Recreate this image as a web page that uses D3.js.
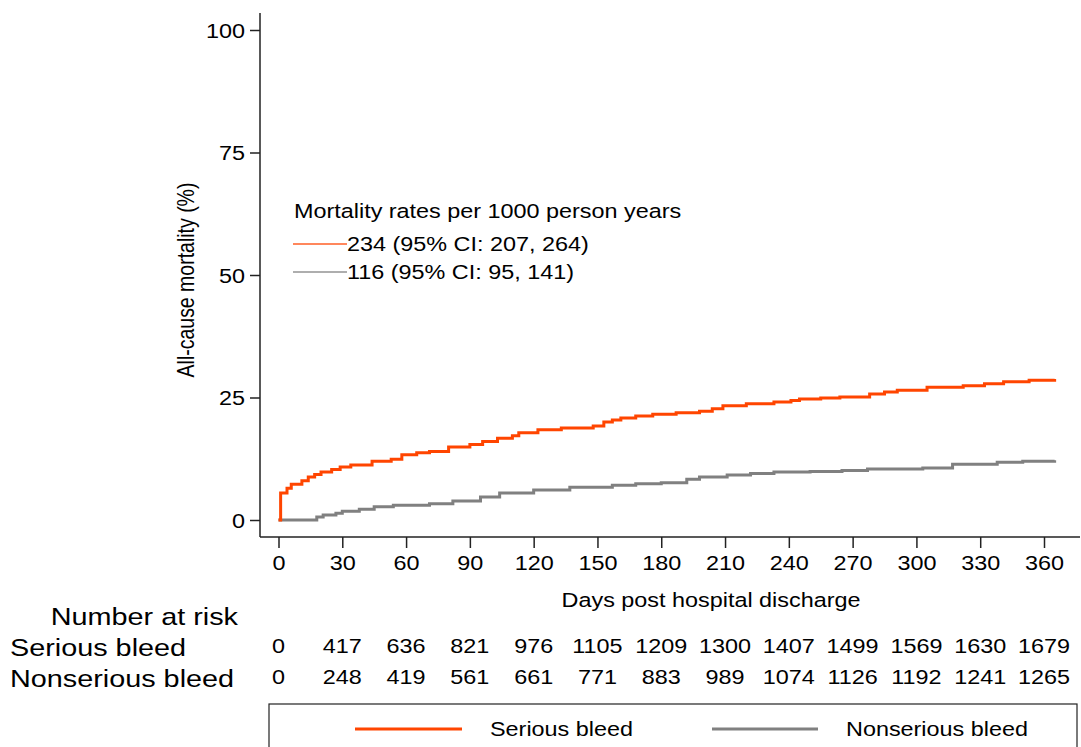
<html>
<head>
<meta charset="utf-8">
<title>All-cause mortality</title>
<style>
    body { margin: 0; padding: 0; background: white; }
    text { font-family: "Liberation Sans", Arial, sans-serif; fill: black; }
</style>
</head>
<body>
<div id="chart"></div>
<script src="https://d3js.org/d3.v7.min.js"></script>
<script>
// Kaplan-Meier style step curves (day, cumulative mortality %)
var seriousDays = [0, 1, 4, 6, 11, 14, 17, 20, 25, 29, 34, 44, 53, 58, 65, 71, 80, 90, 96, 103, 110, 113, 122, 133, 148, 153, 157, 161, 168, 176, 187, 198, 204, 209, 220, 233, 241, 245, 255, 264, 278, 285, 291, 305, 322, 332, 341, 353, 365];
var seriousPct  = [0, 5.5, 6.5, 7.3, 8.0, 8.8, 9.3, 9.8, 10.3, 10.8, 11.2, 12.0, 12.4, 13.3, 13.7, 14.0, 14.9, 15.4, 16.0, 16.7, 17.2, 17.8, 18.4, 18.8, 19.2, 20.0, 20.4, 20.8, 21.2, 21.6, 21.9, 22.2, 22.7, 23.3, 23.7, 24.1, 24.4, 24.7, 24.9, 25.1, 25.7, 26.1, 26.5, 27.1, 27.4, 27.8, 28.2, 28.5, 28.8];

var nonseriousDays = [0, 18, 21, 27, 30, 38, 45, 54, 71, 82, 95, 104, 120, 137, 157, 168, 180, 192, 198, 211, 222, 233, 250, 265, 277, 303, 317, 338, 350, 365];
var nonseriousPct  = [0, 0.6, 1.0, 1.4, 1.8, 2.2, 2.7, 3.0, 3.3, 3.9, 4.7, 5.5, 6.1, 6.7, 7.1, 7.4, 7.6, 8.3, 8.8, 9.2, 9.5, 9.8, 9.9, 10.1, 10.4, 10.6, 11.4, 11.8, 12.0, 12.2];

var xTicks = [0, 30, 60, 90, 120, 150, 180, 210, 240, 270, 300, 330, 360];
var yTicks = [0, 25, 50, 75, 100];

var riskSerious    = [0, 417, 636, 821, 976, 1105, 1209, 1300, 1407, 1499, 1569, 1630, 1679];
var riskNonserious = [0, 248, 419, 561, 661, 771, 883, 989, 1074, 1126, 1192, 1241, 1265];

var rateLabels = ["234 (95% CI: 207, 264)", "116 (95% CI: 95, 141)"];
var groupNames = ["Serious bleed", "Nonserious bleed"];
var colors = ["#ff4500", "#808080"];

var width = 1081, height = 747;
var stretch = 1.2; // the original graph is stretched horizontally

var svg = d3.select("#chart").append("svg")
    .attr("width", width)
    .attr("height", height);

var x = d3.scaleLinear().domain([0, 360]).range([278.5, 1044]);
var y = d3.scaleLinear().domain([0, 100]).range([520, 30]);

var axisX = 260, axisY = 537;

function addText(g, tx, ty, str, size, anchor, rotate) {
    return g.append("text")
        .attr("transform", "translate(" + tx + "," + ty + ") scale(" + stretch + ",1)" + (rotate ? " rotate(-90)" : ""))
        .attr("text-anchor", anchor || "start")
        .style("font-size", size + "px")
        .text(str);
}

// axes
var gx = svg.append("g")
    .attr("transform", "translate(0," + axisY + ")")
    .call(d3.axisBottom(x).tickValues(xTicks).tickSize(11).tickSizeOuter(0));
gx.select(".domain").remove();
gx.selectAll("line").attr("stroke", "#222").attr("stroke-width", 1.5);
gx.selectAll("text")
    .attr("y", 0).attr("dy", null)
    .attr("transform", "translate(0,33) scale(" + stretch + ",1)")
    .style("font-size", "19.5px").style("font-family", "Liberation Sans, Arial, sans-serif");

var gy = svg.append("g")
    .attr("transform", "translate(" + axisX + ",0)")
    .call(d3.axisLeft(y).tickValues(yTicks).tickSize(10).tickSizeOuter(0));
gy.select(".domain").remove();
gy.selectAll("line").attr("stroke", "#222").attr("stroke-width", 1.5);
gy.selectAll("text")
    .attr("x", 0).attr("dy", null)
    .attr("transform", "translate(-15,7) scale(" + stretch + ",1)")
    .style("font-size", "19.5px").style("font-family", "Liberation Sans, Arial, sans-serif");

svg.append("line").attr("x1", axisX).attr("x2", axisX).attr("y1", 13).attr("y2", axisY)
    .attr("stroke", "#222").attr("stroke-width", 1.5);
svg.append("line").attr("x1", axisX).attr("x2", 1080).attr("y1", axisY).attr("y2", axisY)
    .attr("stroke", "#222").attr("stroke-width", 1.5);

addText(svg, 194, 280, "All-cause mortality (%)", 19.5, "middle", true);
addText(svg, 711, 607, "Days post hospital discharge", 19.5, "middle");

// curves
var line = d3.line()
    .x(function (d) { return x(d[0]); })
    .y(function (d) { return y(d[1]); })
    .curve(d3.curveStepAfter);

var series = [d3.zip(seriousDays, seriousPct), d3.zip(nonseriousDays, nonseriousPct)];
// gray first so the orange sits on top
[1, 0].forEach(function (i) {
    svg.append("path")
        .datum(series[i])
        .attr("d", line)
        .attr("fill", "none")
        .attr("stroke", colors[i])
        .attr("stroke-width", 3);
});

// rates legend inside the plot
addText(svg, 294, 218, "Mortality rates per 1000 person years", 19.5, "start");
rateLabels.forEach(function (lab, i) {
    var ly = 244 + i * 28;
    svg.append("line").attr("x1", 293).attr("x2", 347).attr("y1", ly).attr("y2", ly)
        .attr("stroke", colors[i]).attr("stroke-width", 1.5).attr("opacity", 0.85);
    addText(svg, 347, ly + 7, lab, 19.5, "start");
});

// number at risk table
addText(svg, 238, 625, "Number at risk", 24, "end");
addText(svg, 10, 656, groupNames[0], 24, "start");
addText(svg, 10, 687, groupNames[1], 24, "start");
[riskSerious, riskNonserious].forEach(function (row, r) {
    row.forEach(function (v, i) {
        addText(svg, x(xTicks[i]), 653 + r * 31, v, 19.5, "middle");
    });
});

// bottom legend box
svg.append("rect").attr("x", 269).attr("y", 704).attr("width", 808).attr("height", 60)
    .attr("fill", "none").attr("stroke", "#222").attr("stroke-width", 1.2);
var legX = [[355, 462, 490], [712, 818, 846]];
groupNames.forEach(function (name, i) {
    svg.append("line").attr("x1", legX[i][0]).attr("x2", legX[i][1]).attr("y1", 729).attr("y2", 729)
        .attr("stroke", colors[i]).attr("stroke-width", 3);
    addText(svg, legX[i][2], 736, name, 19.5, "start");
});
</script>
</body>
</html>
